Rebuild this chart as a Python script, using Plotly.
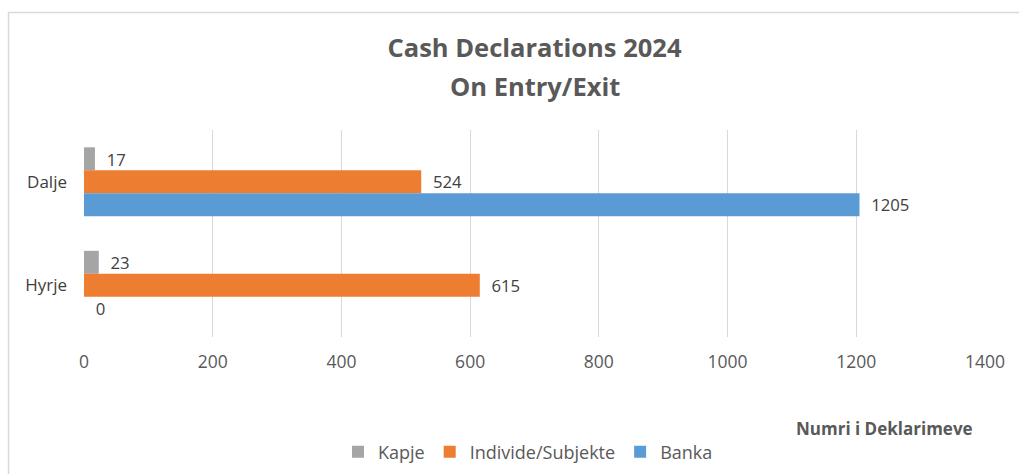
import plotly.graph_objects as go

categories = ["Dalje", "Hyrje"]
kapje = [17, 23]
individe = [524, 615]
banka = [1205, 0]
series_names = ["Kapje", "Individe/Subjekte", "Banka"]
colors = ["#A5A5A5", "#ED7D31", "#5B9BD5"]
x_ticks = [0, 200, 400, 600, 800, 1000, 1200, 1400]

FONT = "Open Sans, sans-serif"
NB = "\u00a0\u00a0"

fig = go.Figure()
for name, vals, col in zip(series_names, [kapje, individe, banka], colors):
    fig.add_trace(go.Bar(
        y=categories, x=vals, name=name, orientation="h",
        marker=dict(color=col, line=dict(width=0)),
        text=[NB + str(v) for v in vals], textposition="outside",
        textfont=dict(size=17.5, color="#404040", family=FONT),
        cliponaxis=False,
    ))

W, H = 1019, 474
L, R, T, B = 84, 34, 130, 137
pw, ph = W - L - R, H - T - B

def px2x(px):
    return (px - L) / pw

def py2y(py):
    return (H - B - py) / ph

fig.update_layout(
    width=W, height=H,
    margin=dict(l=L, r=R, t=T, b=B, pad=0, autoexpand=False),
    barmode="group", bargap=0.335, bargroupgap=0,
    plot_bgcolor="white", paper_bgcolor="white",
    font=dict(family=FONT, color="#595959"),
    title=dict(
        text="<b>Cash Declarations 2024</b>",
        x=0.5, xref="paper", xanchor="center",
        y=1 - 48 / H, yanchor="middle",
        font=dict(size=25.5, color="#595959", family=FONT),
    ),
    xaxis=dict(
        range=[0, 1400], tickvals=x_ticks, ticktext=[str(t) for t in x_ticks],
        showgrid=True, gridcolor="#D9D9D9", gridwidth=1,
        zeroline=False, showline=False, ticks="", automargin=False,
        tickfont=dict(size=17.5, color="#595959", family=FONT),
        ticklabelstandoff=12,
    ),
    yaxis=dict(
        autorange="reversed", showgrid=False, zeroline=False,
        showline=False, ticks="", automargin=False,
        tickfont=dict(size=17, color="#404040", family=FONT),
        ticklabelstandoff=16,
    ),
    legend=dict(
        orientation="h", x=px2x(338), xanchor="left",
        y=py2y(452), yanchor="middle",
        font=dict(size=18, color="#595959", family=FONT),
        traceorder="normal", itemwidth=30, itemsizing="constant",
    ),
    showlegend=True,
)

fig.add_annotation(
    text="<b>On Entry/Exit</b>", xref="paper", yref="paper",
    x=0.5, xanchor="center", y=py2y(86), yanchor="middle",
    showarrow=False, font=dict(size=25.5, color="#595959", family=FONT),
)

fig.add_annotation(
    text="<b>Numri i Deklarimeve</b>", xref="paper", yref="paper",
    x=px2x(975), xanchor="right", y=py2y(428), yanchor="middle",
    showarrow=False, font=dict(size=17, color="#595959", family=FONT),
)

fig.add_shape(
    type="rect", xref="paper", yref="paper",
    x0=px2x(8.5), x1=px2x(1030), y0=py2y(12.5), y1=py2y(490),
    line=dict(color="#D9D9D9", width=1.5), fillcolor="rgba(0,0,0,0)",
    layer="below",
)

fig.write_html(
    "out.html",
    config={"displayModeBar": False},
    post_script="document.body.style.margin='0';document.body.style.overflow='hidden';",
)
